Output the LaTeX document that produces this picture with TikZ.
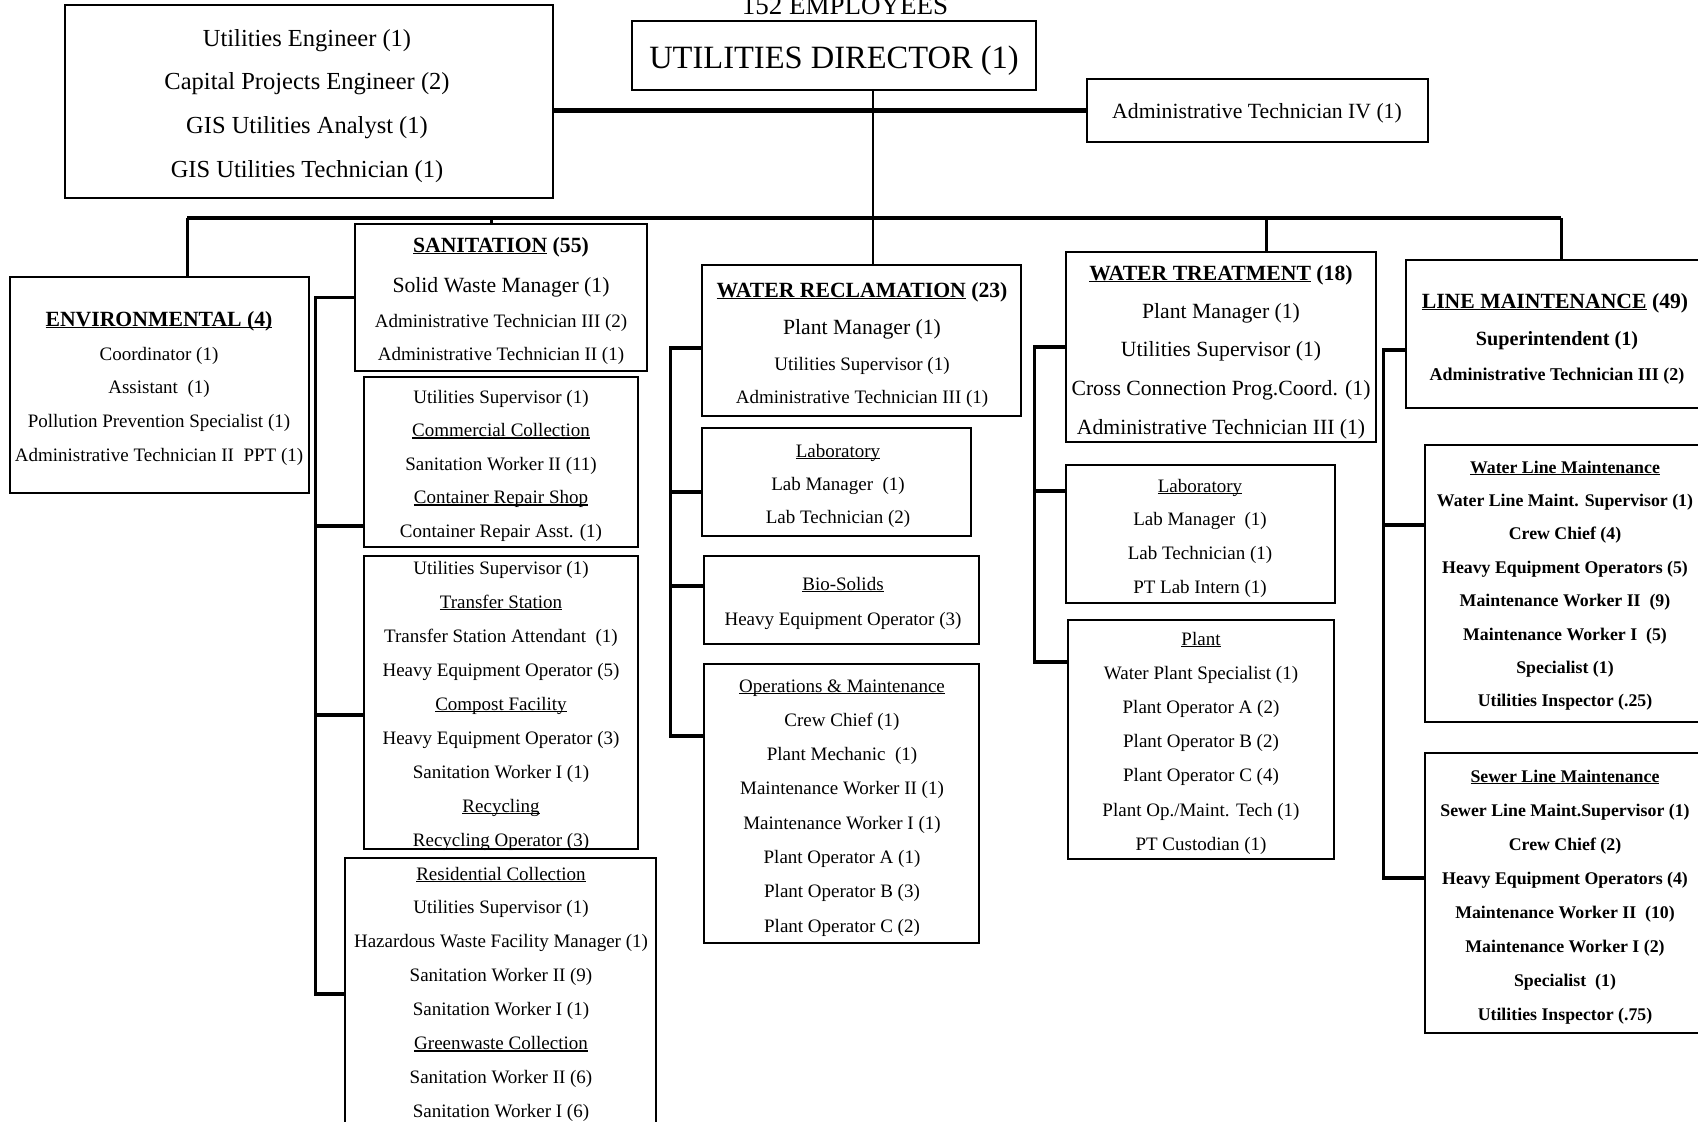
\documentclass[tikz,border=0pt]{standalone}
\usepackage{fontspec}
\setmainfont{Liberation Serif}

% underline at a fixed depth, through the descenders
\newcommand{\undl}[1]{\setbox0=\hbox{#1}\rlap{\rule[-0.11em]{\wd0}{0.07em}}\box0\relax}
\newcommand{\bodyfont}{\fontsize{19}{23}\selectfont}
\newcommand{\bigfont}{\fontsize{21.7}{26}\selectfont}
\newcommand{\headfont}{\fontsize{21.7}{26}\selectfont\bfseries}
\newcommand{\lmfont}{\fontsize{17.8}{22}\selectfont\bfseries}

\begin{document}
\begin{tikzpicture}[x=1pt,y=-1pt,
	box/.style={draw,line width=2.6pt,inner sep=0pt},
	txt/.style={anchor=base,inner sep=0pt,font=\bodyfont},
	link/.style={line width=3.2pt}]
	\useasboundingbox (0,0) rectangle (1698,1122);

	% director, staff and admin
	\node[txt,font=\fontsize{27}{32}\selectfont] (count) at (845,14) {152 EMPLOYEES};
	\node[box,minimum width=404pt,minimum height=69pt] (dir) at (834,55.5) {};
	\node[txt,font=\fontsize{32.5}{38}\selectfont] (dirtxt) at (834,68) {UTILITIES DIRECTOR (1)};
	\node[box,minimum width=488pt,minimum height=193pt] (staff) at (309,101.5) {};
	\foreach \lbl [count=\i from 0] in {Utilities Engineer (1),Capital Projects Engineer (2),GIS Utilities Analyst (1),GIS Utilities Technician (1)}
		\node[txt,font=\fontsize{24.5}{29}\selectfont] (staff\i) at (307,46+\i*43.7) {\lbl};
	\node[box,minimum width=341pt,minimum height=63pt] (admin) at (1257.5,110.5) {};
	\node[txt,font=\bigfont] (admintxt) at (1257,118) {Administrative Technician IV (1)};
	\draw[line width=4.5pt] (admin.west) -- (admin.west -| staff.east);

	% environmental
	\node[box,minimum width=299pt,minimum height=216pt] (env) at (159.5,385) {};
	\node[txt,font=\headfont] (envhead) at (159,326) {\undl{ENVIRONMENTAL (4)}};
	\foreach \lbl [count=\i from 0] in {Coordinator (1),Assistant\ \ (1),Pollution Prevention Specialist (1),Administrative Technician II\ \ PPT (1)}
		\node[txt] (env\i) at (159,360+\i*33.7) {\lbl};

	% sanitation
	\node[box,minimum width=292pt,minimum height=147pt] (san) at (501,297.5) {};
	\node[txt,font=\headfont] (sanhead) at (501,252) {\undl{SANITATION} (55)};
	\node[txt,font=\bigfont] (san0) at (501,292) {Solid Waste Manager (1)};
	\node[txt] (san1) at (501,327) {Administrative Technician III (2)};
	\node[txt] (san2) at (501,360) {Administrative Technician II (1)};
	\node[box,minimum width=274pt,minimum height=170pt] (sancom) at (501,462) {};
	\foreach \lbl [count=\i from 0] in {Utilities Supervisor (1),\undl{Commercial Collection},Sanitation Worker II (11),\undl{Container Repair Shop},Container Repair Asst. (1)}
		\node[txt] (sancom\i) at (501,403+\i*33.5) {\lbl};
	\node[box,minimum width=274pt,minimum height=293pt] (santra) at (501,702.5) {};
	\foreach \lbl [count=\i from 0] in {Utilities Supervisor (1),\undl{Transfer Station},Transfer Station Attendant\ \ (1),Heavy Equipment Operator (5),\undl{Compost Facility},Heavy Equipment Operator (3),Sanitation Worker I (1),\undl{Recycling},Recycling Operator (3)}
		\node[txt] (santra\i) at (501,574+\i*34) {\lbl};
	\node[box,minimum width=311pt,minimum height=272pt] (sanres) at (500.5,994) {};
	\foreach \lbl [count=\i from 0] in {\undl{Residential Collection},Utilities Supervisor (1),Hazardous Waste Facility Manager (1),Sanitation Worker II (9),Sanitation Worker I (1),\undl{Greenwaste Collection},Sanitation Worker II (6),Sanitation Worker I (6)}
		\node[txt] (sanres\i) at (501,880+\i*33.9) {\lbl};

	% water reclamation
	\node[box,minimum width=319pt,minimum height=151pt] (wr) at (861.5,340.5) {};
	\node[txt,font=\headfont] (wrhead) at (862,297) {\undl{WATER RECLAMATION} (23)};
	\node[txt,font=\bigfont] (wr0) at (862,334) {Plant Manager (1)};
	\node[txt] (wr1) at (862,370) {Utilities Supervisor (1)};
	\node[txt] (wr2) at (862,403) {Administrative Technician III (1)};
	\node[box,minimum width=269pt,minimum height=108pt] (wrlab) at (836.5,482) {};
	\foreach \lbl [count=\i from 0] in {\undl{Laboratory},Lab Manager\ \ (1),Lab Technician (2)}
		\node[txt] (wrlab\i) at (838,457+\i*33) {\lbl};
	\node[box,minimum width=275pt,minimum height=88pt] (wrbio) at (841.5,600) {};
	\node[txt] (wrbio0) at (843,590) {\undl{Bio-Solids}};
	\node[txt] (wrbio1) at (843,625) {Heavy Equipment Operator (3)};
	\node[box,minimum width=275pt,minimum height=279pt] (wrops) at (841.5,803.5) {};
	\foreach \lbl [count=\i from 0] in {\undl{Operations \& Maintenance},Crew Chief (1),Plant Mechanic\ \ (1),Maintenance Worker II (1),Maintenance Worker I (1),Plant Operator A (1),Plant Operator B (3),Plant Operator C (2)}
		\node[txt] (wrops\i) at (842,692+\i*34.3) {\lbl};

	% water treatment
	\node[box,minimum width=310pt,minimum height=190pt] (wt) at (1221,347) {};
	\node[txt,font=\headfont] (wthead) at (1221,280) {\undl{WATER TREATMENT} (18)};
	\foreach \lbl [count=\i from 0] in {Plant Manager (1),Utilities Supervisor (1),Cross Connection Prog.Coord. (1),Administrative Technician III (1)}
		\node[txt,font=\bigfont] (wt\i) at (1221,318+\i*38.7) {\lbl};
	\node[box,minimum width=269pt,minimum height=138pt] (wtlab) at (1200.5,534) {};
	\foreach \lbl [count=\i from 0] in {\undl{Laboratory},Lab Manager\ \ (1),Lab Technician (1),PT Lab Intern (1)}
		\node[txt] (wtlab\i) at (1200,492+\i*33.7) {\lbl};
	\node[box,minimum width=266pt,minimum height=239pt] (wtplant) at (1201,739.5) {};
	\foreach \lbl [count=\i from 0] in {\undl{Plant},Water Plant Specialist (1),Plant Operator A (2),Plant Operator B (2),Plant Operator C (4),Plant Op./Maint. Tech (1),PT Custodian (1)}
		\node[txt] (wtplant\i) at (1201,645+\i*34.2) {\lbl};

	% line maintenance
	\node[box,minimum width=300pt,minimum height=148pt] (lm) at (1556,334) {};
	\node[txt,font=\headfont] (lmhead) at (1555,308) {\undl{LINE MAINTENANCE} (49)};
	\node[txt,font=\fontsize{20.2}{24}\selectfont\bfseries] (lm0) at (1557,345) {Superintendent (1)};
	\node[txt,font=\fontsize{18}{22}\selectfont\bfseries] (lm1) at (1557,380) {Administrative Technician III (2)};
	\node[box,minimum width=281pt,minimum height=277pt] (lmwater) at (1565.5,583.5) {};
	\foreach \lbl [count=\i from 0] in {\undl{Water Line Maintenance},Water Line Maint. Supervisor (1),Crew Chief (4),Heavy Equipment Operators (5),Maintenance Worker II\ \ (9),Maintenance Worker I\ \ (5),Specialist (1),Utilities Inspector (.25)}
		\node[txt,font=\lmfont] (lmwater\i) at (1565,473+\i*33.4) {\lbl};
	\node[box,minimum width=281pt,minimum height=280pt] (lmsewer) at (1565.5,893) {};
	\foreach \lbl [count=\i from 0] in {\undl{Sewer Line Maintenance},Sewer Line Maint.Supervisor (1),Crew Chief (2),Heavy Equipment Operators (4),Maintenance Worker II\ \ (10),Maintenance Worker I (2),Specialist\ \ (1),Utilities Inspector (.75)}
		\node[txt,font=\lmfont] (lmsewer\i) at (1565,782+\i*34) {\lbl};

	% trunk, bus and drops
	\coordinate (bus) at (873,218);
	\coordinate (busL) at (187,218);
	\coordinate (busS) at (491,218);
	\coordinate (busT) at (1266,218);
	\coordinate (busR) at (1561,218);
	\draw[line width=2.6pt] (dir.south -| bus) -- (bus |- wr.north);
	\draw[line width=4.5pt] (busL) -- (busR);
	\draw[line width=3pt] (busL) -- (busL |- env.north);
	\draw[line width=3pt] (busS) -- (busS |- san.north);
	\draw[line width=3pt] (busT) -- (busT |- wt.north);
	\draw[line width=3pt] (busR) -- (busR |- lm.north);

	% brackets down each division
	\draw[link] (san.west) -- ++(-38,0) coordinate (sanbar) |- (sanres.west);
	\draw[link] ([yshift=-64pt]sancom.west) -| (sanbar);
	\draw[link] ([yshift=-12.5pt]santra.west) -| (sanbar);

	\draw[link] ([yshift=-7.5pt]wr.west) -- ++(-30,0) coordinate (wrbar) |- ([yshift=67.5pt]wrops.west);
	\draw[link] ([yshift=-10pt]wrlab.west) -| (wrbar);
	\draw[link] ([yshift=14pt]wrbio.west) -| (wrbar);

	\draw[link] (wt.west) -- ++(-30,0) coordinate (wtbar) |- ([yshift=77.5pt]wtplant.west);
	\draw[link] ([yshift=43pt]wtlab.west) -| (wtbar);

	\draw[link] ([yshift=-16pt]lm.west) -- ++(-21,0) coordinate (lmbar) |- ([yshift=15pt]lmsewer.west);
	\draw[link] ([yshift=58.5pt]lmwater.west) -| (lmbar);
\end{tikzpicture}
\end{document}
